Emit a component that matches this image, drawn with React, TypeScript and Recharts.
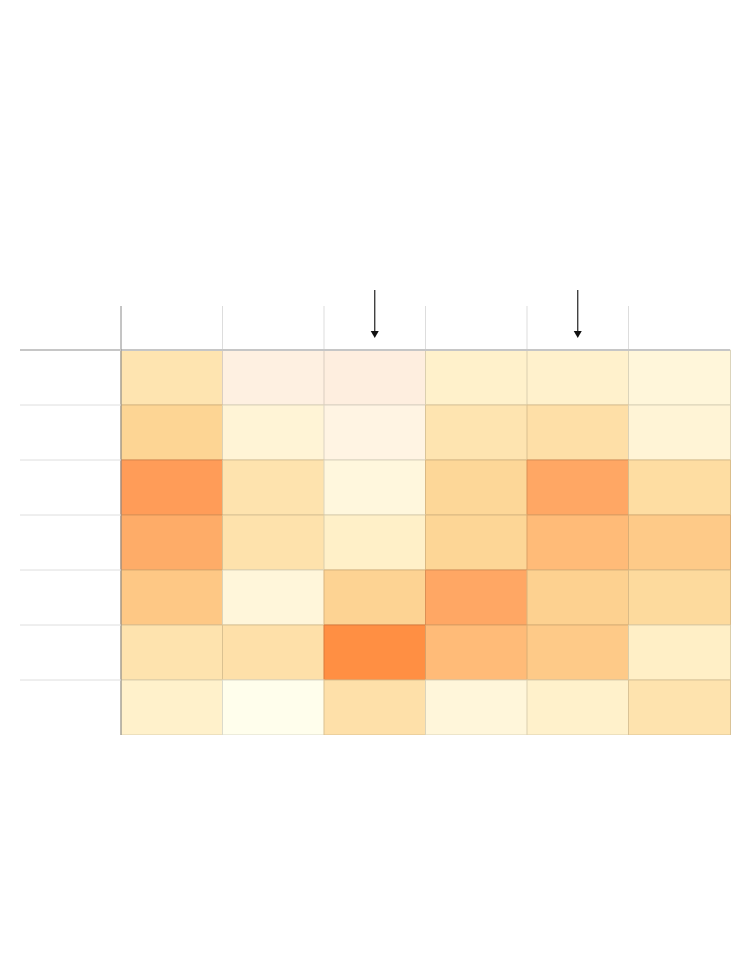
import {
  BarChart,
  Bar,
  Cell,
  XAxis,
  YAxis,
  ReferenceLine,
} from "recharts";

// columns of the table (no labels shown in the picture)
const columns = ["c1", "c2", "c3", "c4", "c5", "c6"];
// rows, top to bottom
const rows = ["r1", "r2", "r3", "r4", "r5", "r6", "r7"];
// heat values per row (negative = pinkish tint)
const heatRow1 = [2.9, -0.6, -0.8, 1.7, 1.6, 0.8];
const heatRow2 = [4.1, 1.0, -0.3, 2.9, 3.3, 1.0];
const heatRow3 = [8.8, 3.0, 0.7, 3.9, 7.7, 3.5];
const heatRow4 = [7.2, 3.1, 1.9, 4.0, 6.0, 4.9];
const heatRow5 = [5.1, 0.8, 4.2, 7.7, 4.4, 3.7];
const heatRow6 = [3.0, 3.2, 9.8, 6.0, 4.9, 2.0];
const heatRow7 = [1.7, 0.0, 3.2, 0.8, 1.7, 3.0];
// columns marked with an arrow above the header
const flagged = ["c3", "c5"];

const heat = [heatRow1, heatRow2, heatRow3, heatRow4, heatRow5, heatRow6, heatRow7];

const posStops = [
  "#fffeec", "#fff4d6", "#ffefc6", "#fee3ae", "#fdd696", "#fec986",
  "#ffbb78", "#feae6a", "#ffa462", "#ff9a56", "#ff8c3e",
];
const negStops = ["#fff8e6", "#feebdd"];

const hexToRgb = (h) => [1, 3, 5].map((i) => parseInt(h.slice(i, i + 2), 16));
const rgbToHex = (c) =>
  "#" + c.map((v) => Math.round(Math.max(0, Math.min(255, v))).toString(16).padStart(2, "0")).join("");

const interp = (stops, t) => {
  const pos = Math.max(0, Math.min(stops.length - 1, t));
  const i = Math.min(stops.length - 2, Math.floor(pos));
  const f = pos - i;
  const a = hexToRgb(stops[i]);
  const b = hexToRgb(stops[i + 1]);
  return rgbToHex(a.map((v, k) => v + (b[k] - v) * f));
};

const heatColor = (v) => (v < 0 ? interp(negStops, -v) : interp(posStops, v));
const darken = (hex, k) => rgbToHex(hexToRgb(hex).map((v) => v * k));

// one record per column, each row is one unit tall in the stack
const data = columns.map((col) => {
  const rec = { col };
  rows.forEach((r) => {
    rec[r] = 1;
  });
  return rec;
});

const TICK_LEN = 101;
const HEADER = -0.8;

// row separator lines in the (empty) label column
const RowTick = (props) => {
  const { x, y, payload } = props;
  const top = payload.value === 0;
  return (
    <line
      x1={x - TICK_LEN}
      x2={x}
      y1={y}
      y2={y}
      stroke={top ? "#c6c6c6" : "#dedede"}
      strokeWidth={top ? 2 : 1}
    />
  );
};

const Arrow = (props) => {
  const { x1, y1, x2, y2 } = props;
  return (
    <g>
      <line x1={x1} y1={y1} x2={x2} y2={y2 - 6} stroke="#222" strokeWidth={1.2} />
      <polygon points={`${x2 - 4},${y2 - 7} ${x2 + 4},${y2 - 7} ${x2},${y2}`} fill="#111" />
    </g>
  );
};

export default function App() {
  return (
    <BarChart
      width={734}
      height={946}
      data={data}
      barCategoryGap={0}
      margin={{ top: 298, right: 12, bottom: 219, left: 12 }}
    >
      <XAxis dataKey="col" type="category" hide />
      <YAxis
        type="number"
        domain={[HEADER, rows.length]}
        allowDataOverflow
        reversed
        ticks={rows.map((_, i) => i)}
        interval={0}
        width={TICK_LEN}
        tickSize={0}
        tickMargin={0}
        tickLine={false}
        tick={<RowTick />}
        axisLine={false}
      />
      {rows.map((r, i) => (
        <Bar key={r} dataKey={r} stackId="t" isAnimationActive={false}>
          {columns.map((c, j) => {
            const fill = heatColor(heat[i][j]);
            return <Cell key={c} fill={fill} stroke={darken(fill, 0.86)} strokeWidth={1} />;
          })}
        </Bar>
      ))}
      {/* header column edges */}
      {columns.slice(1).map((c) => (
        <ReferenceLine
          key={"edge" + c}
          position="start"
          segment={[
            { x: c, y: HEADER },
            { x: c, y: 0 },
          ]}
          stroke="#dddddd"
        />
      ))}
      <ReferenceLine y={0} stroke="#c6c6c6" strokeWidth={2} />
      {/* dark rule between label column and the table */}
      <ReferenceLine x={columns[0]} position="start" stroke="#8a8a8a" strokeWidth={1} />
      {flagged.map((c) => (
        <ReferenceLine
          key={c}
          segment={[
            { x: c, y: -1.09 },
            { x: c, y: -0.22 },
          ]}
          ifOverflow="visible"
          shape={<Arrow />}
        />
      ))}
    </BarChart>
  );
}
